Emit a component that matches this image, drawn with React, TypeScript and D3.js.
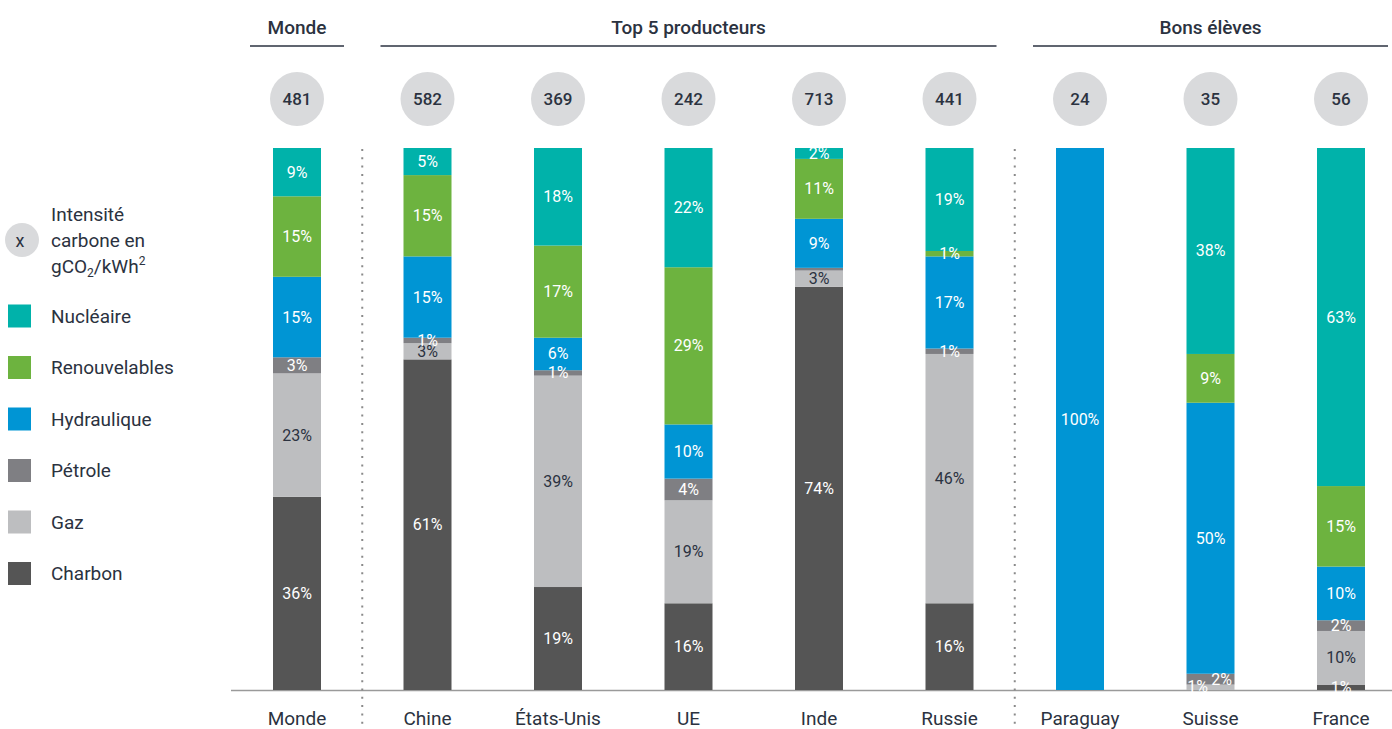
import { useEffect, useRef } from "react";
import * as d3 from "d3";

// Energy sources, bottom to top of each bar
const sources = ["Charbon", "Gaz", "Pétrole", "Hydraulique", "Renouvelables", "Nucléaire"];
const sourceColors = ["#555555", "#bdbec0", "#7f7f83", "#0095d4", "#6db33f", "#00b2aa"];
const legendOrder = ["Nucléaire", "Renouvelables", "Hydraulique", "Pétrole", "Gaz", "Charbon"];

const countries = ["Monde", "Chine", "États-Unis", "UE", "Inde", "Russie", "Paraguay", "Suisse", "France"];
const intensity = [481, 582, 369, 242, 713, 441, 24, 35, 56];

// share (%) per source, same order as countries
const charbon = [36, 61, 19, 16, 74, 16, 0, 0, 1];
const gaz = [23, 3, 39, 19, 3, 46, 0, 1, 10];
const petrole = [3, 1, 1, 4, 0.5, 1, 0, 2, 2];
const hydraulique = [15, 15, 6, 10, 9, 17, 100, 50, 10];
const renouvelables = [15, 15, 17, 29, 11, 1, 0, 9, 15];
const nucleaire = [9, 5, 18, 22, 2, 19, 0, 38, 63];

const groups = [
  { name: "Monde", first: "Monde", last: "Monde" },
  { name: "Top 5 producteurs", first: "Chine", last: "Russie" },
  { name: "Bons élèves", first: "Paraguay", last: "France" },
];

const TEXT = "#2b3240";
const FONT = "Roboto, 'Noto Sans', sans-serif";

export default function App() {
  const svgRef = useRef<SVGSVGElement>(null);

  useEffect(() => {
    if (!svgRef.current) return;
    const svg = d3.select(svgRef.current);
    svg.selectAll("*").remove();

    const top = 148;
    const bottom = 690;
    const barW = 48;

    const x = d3.scalePoint<string>().domain(countries).range([297, 1341]);
    const y = d3.scaleLinear().domain([0, 1]).range([bottom, top]);
    const color = d3.scaleOrdinal<string, string>().domain(sources).range(sourceColors);

    const series = [charbon, gaz, petrole, hydraulique, renouvelables, nucleaire];
    const rows = countries.map((c, i) => {
      const r: Record<string, any> = { country: c };
      sources.forEach((s, j) => (r[s] = series[j][i]));
      return r;
    });

    const stacked = d3
      .stack<Record<string, any>>()
      .keys(sources)
      .offset(d3.stackOffsetExpand)(rows);

    // baseline
    svg
      .append("line")
      .attr("x1", 231)
      .attr("x2", 1392)
      .attr("y1", bottom + 0.5)
      .attr("y2", bottom + 0.5)
      .attr("stroke", "#9a9a9a")
      .attr("stroke-width", 1.5);

    // bars
    const layer = svg
      .append("g")
      .selectAll("g")
      .data(stacked)
      .join("g")
      .attr("fill", (d) => color(d.key));

    layer
      .selectAll("rect")
      .data((d) => d)
      .join("rect")
      .attr("x", (d) => x(d.data.country)! - barW / 2)
      .attr("y", (d) => y(d[1]))
      .attr("width", barW)
      .attr("height", (d) => y(d[0]) - y(d[1]));

    // segment labels (small tweaks where two labels collide)
    const labelShift: Record<string, number> = { "Suisse|Gaz": -13, "Suisse|Pétrole": 11 };
    stacked.forEach((s) => {
      s.forEach((d) => {
        const v = d.data[s.key] as number;
        if (v < 1) return;
        const key = `${d.data.country}|${s.key}`;
        const dark = s.key === "Gaz" && key !== "Suisse|Gaz";
        svg
          .append("text")
          .attr("x", x(d.data.country)! + (labelShift[key] || 0))
          .attr("y", (y(d[0]) + y(d[1])) / 2 - (key === "Suisse|Gaz" ? 1 : 0))
          .attr("text-anchor", "middle")
          .attr("dominant-baseline", "central")
          .attr("font-family", FONT)
          .attr("font-size", 16)
          .attr("fill", dark ? TEXT : "#ffffff")
          .text(`${v}%`);
      });
    });

    // dotted separators between groups
    [["Monde", "Chine"], ["Russie", "Paraguay"]].forEach(([a, b]) => {
      const sx = (x(a)! + x(b)!) / 2;
      svg
        .append("line")
        .attr("x1", sx)
        .attr("x2", sx)
        .attr("y1", top + 1)
        .attr("y2", 729)
        .attr("stroke", "#8a8a8a")
        .attr("stroke-width", 2)
        .attr("stroke-dasharray", "2,6.3");
    });

    // group headers
    groups.forEach((g) => {
      const x1 = x(g.first)! - 47;
      const x2 = x(g.last)! + 47;
      svg
        .append("text")
        .attr("x", (x1 + x2) / 2)
        .attr("y", 34)
        .attr("text-anchor", "middle")
        .attr("font-family", FONT)
        .attr("font-weight", 500)
        .attr("font-size", 19)
        .attr("fill", TEXT)
        .text(g.name);
      svg
        .append("line")
        .attr("x1", x1)
        .attr("x2", x2)
        .attr("y1", 46)
        .attr("y2", 46)
        .attr("stroke", TEXT)
        .attr("stroke-width", 1.5);
    });

    // intensity bubbles
    countries.forEach((c, i) => {
      svg
        .append("circle")
        .attr("cx", x(c)!)
        .attr("cy", 99)
        .attr("r", 27)
        .attr("fill", "#d9dadc");
      svg
        .append("text")
        .attr("x", x(c)!)
        .attr("y", 99)
        .attr("text-anchor", "middle")
        .attr("dominant-baseline", "central")
        .attr("font-family", FONT)
        .attr("font-weight", 500)
        .attr("font-size", 17)
        .attr("fill", TEXT)
        .text(intensity[i]);
      svg
        .append("text")
        .attr("x", x(c)!)
        .attr("y", 725)
        .attr("text-anchor", "middle")
        .attr("font-family", FONT)
        .attr("font-size", 19)
        .attr("fill", TEXT)
        .text(c);
    });

    // legend
    const leg = svg.append("g").attr("font-family", FONT).attr("fill", TEXT);
    leg.append("circle").attr("cx", 22).attr("cy", 240).attr("r", 17).attr("fill", "#d9dadc");
    leg
      .append("text")
      .attr("x", 20)
      .attr("y", 240)
      .attr("text-anchor", "middle")
      .attr("dominant-baseline", "central")
      .attr("font-size", 18)
      .text("x");
    leg.append("text").attr("x", 51).attr("y", 221).attr("font-size", 19).text("Intensité");
    leg.append("text").attr("x", 51).attr("y", 247).attr("font-size", 19).text("carbone en");
    const unit = leg.append("text").attr("x", 51).attr("y", 273).attr("font-size", 19);
    unit.append("tspan").text("gCO");
    unit.append("tspan").attr("font-size", 12).attr("dy", 4).text("2");
    unit.append("tspan").attr("dy", -4).text("/kWh");
    unit.append("tspan").attr("font-size", 12).attr("dy", -8).text("2");

    const ly = d3.scalePoint<string>().domain(legendOrder).range([316, 573.5]);
    legendOrder.forEach((s) => {
      leg
        .append("rect")
        .attr("x", 8)
        .attr("y", ly(s)! - 11.5)
        .attr("width", 23)
        .attr("height", 23)
        .attr("fill", color(s));
      leg
        .append("text")
        .attr("x", 51)
        .attr("y", ly(s)!)
        .attr("dominant-baseline", "central")
        .attr("font-size", 19)
        .text(s);
    });
  }, []);

  return (
    <svg
      ref={svgRef}
      width={1392}
      height={729}
      style={{ position: "absolute", left: 0, top: 0, background: "#fff" }}
      role="img"
      aria-label="Mix électrique et intensité carbone par pays"
    />
  );
}
